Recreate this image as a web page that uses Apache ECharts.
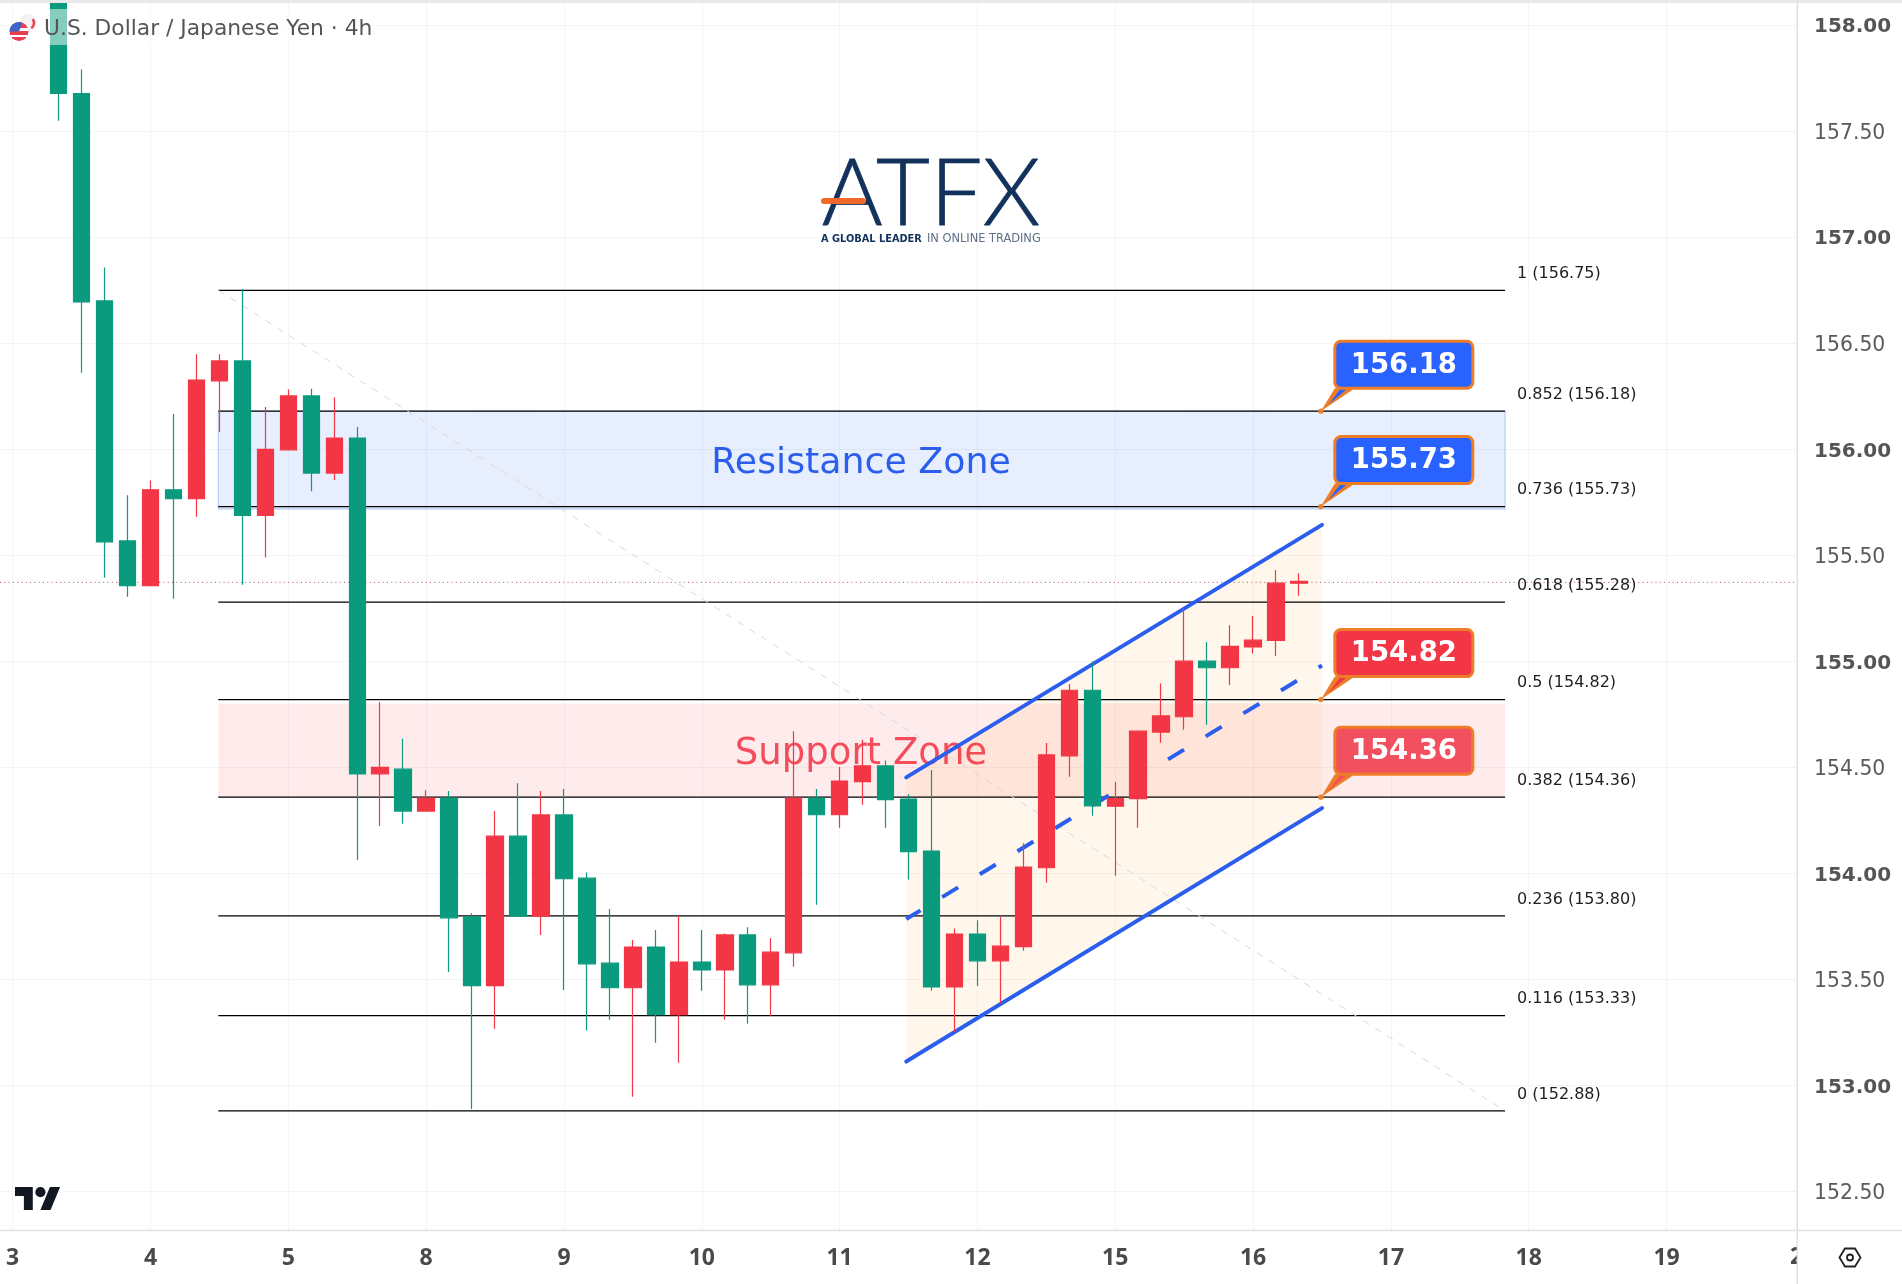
<!DOCTYPE html>
<html>
<head>
<meta charset="utf-8">
<title>USD/JPY 4h</title>
<script src="https://cdn.jsdelivr.net/npm/echarts@6/dist/echarts.min.js"></script>
<style>
html,body{margin:0;padding:0;background:#fff;}
#chart{width:1902px;height:1284px;}
</style>
</head>
<body>
<div id="chart"></div>
<script>
// bars start at index 2, six 4h bars per day
var firstBar = 2;
var opens  = [158.35,157.678,156.70,155.568,155.357,155.809,155.767,156.323,156.417,155.688,155.998,156.252,155.888,156.053,154.47,154.492,154.294,154.356,153.796,153.471,154.176,153.799,154.276,153.978,153.577,153.461,153.653,153.334,153.582,153.545,153.71,153.475,153.626,154.356,154.277,154.433,154.507,154.351,154.106,153.465,153.714,153.588,153.655,154.027,154.555,154.864,154.317,154.353,154.667,154.739,155.001,154.970,155.068,155.099,155.369];
var closes = [157.678,156.695,155.563,155.357,155.809,155.767,156.327,156.417,155.688,156.0,156.252,155.888,156.053,154.469,154.50,154.294,154.356,153.791,153.471,154.176,153.799,154.276,153.975,153.574,153.461,153.653,153.334,153.582,153.545,153.71,153.475,153.629,154.356,154.277,154.436,154.507,154.348,154.103,153.465,153.714,153.588,153.657,154.03,154.559,154.864,154.319,154.353,154.671,154.743,155.001,154.970,155.071,155.1,155.369,155.377];
var lows   = [157.549,156.361,155.395,155.305,155.357,155.295,155.682,156.082,155.362,155.49,155.998,155.803,155.855,154.063,154.224,154.235,154.294,153.535,152.889,153.268,153.799,153.71,153.45,153.259,153.31,152.947,153.202,153.108,153.447,153.31,153.291,153.329,153.56,153.853,154.216,154.324,154.216,153.972,153.447,153.252,153.469,153.388,153.635,153.956,154.456,154.272,153.989,154.216,154.617,154.678,154.701,154.889,155.037,155.025,155.31];
var highs  = [158.45,157.791,156.858,155.784,155.853,156.167,156.448,156.448,156.756,156.2,156.282,156.286,156.245,156.105,154.808,154.635,154.393,154.389,153.812,154.294,154.425,154.389,154.398,154.005,153.832,153.686,153.733,153.802,153.733,153.717,153.746,153.694,154.671,154.398,154.502,154.63,154.533,154.373,154.488,153.74,153.779,153.797,154.142,154.615,154.893,155.0,154.431,154.671,154.896,155.247,155.091,155.171,155.214,155.431,155.416];

var dayLabels = ['3','4','5','8','9','10','11','12','15','16','17','18','19'];
var dayTicks = [0,6,12,18,24,30,36,42,48,54,60,66,72];
var priceTicks = [152.5,153,153.5,154,154.5,155,155.5,156,156.5,157,157.5,158];
var lastPrice = 155.373;

var fibRatios = ['1','0.852','0.736','0.618','0.5','0.382','0.236','0.116','0'];
var fibPrices = [156.75,156.18,155.73,155.28,154.82,154.36,153.80,153.33,152.88];
var fibFrom = 8.95, fibTo = 64.97;

var resistanceZone = [155.719,156.18];
var supportZone = [154.36,154.802];
var channelX = [38.9,57.0];
var channelTop = [154.453,155.644];
var channelMid = [153.785,154.981];
var channelBottom = [153.113,154.308];

var calloutPrices = [156.18,155.73,154.82,154.36];
var calloutColors = ['#2962ff','#2962ff','#f23645','#f2505f'];
var calloutX = 56.95;

var xMin = -0.553, xMax = 77.68;
var yMin = 152.314, yMax = 158.119;
var FONT = '"DejaVu Sans"';

var candles = [];
for (var i = 0; i < opens.length; i++) {
    candles.push([i + firstBar, opens[i], closes[i], lows[i], highs[i]]);
}

function lineSeries(points, color, width, type, z, cap, dashOffset) {
    return {
        type: 'line', data: points, symbol: 'none', silent: true, z: z, animation: false,
        lineStyle: {color: color, width: width, type: type, cap: cap || 'round', dashOffset: dashOffset || 0}
    };
}

function polySeries(points, fill, stroke, z) {
    return {
        type: 'custom', silent: true, z: z, data: [points[0]],
        encode: {x: 0, y: 1},
        renderItem: function (params, api) {
            var pts = [];
            for (var k = 0; k < points.length; k++) pts.push(api.coord(points[k]));
            return {type: 'polygon', shape: {points: pts}, style: {fill: fill, stroke: stroke || 'none', lineWidth: 1}};
        }
    };
}

function textSeries(x, y, text, color, size) {
    return {
        type: 'custom', silent: true, z: 3, data: [[x, y]],
        encode: {x: 0, y: 1},
        renderItem: function (params, api) {
            var p = api.coord([api.value(0), api.value(1)]);
            return {type: 'text', x: p[0], y: p[1], style: {text: text, fill: color, font: size + 'px ' + FONT, align: 'center', verticalAlign: 'middle'}};
        }
    };
}

var series = [];

// zones and channel fill
series.push(polySeries([[fibFrom,resistanceZone[0]],[fibTo,resistanceZone[0]],[fibTo,resistanceZone[1]],[fibFrom,resistanceZone[1]]], 'rgba(66,133,244,0.13)', '#a9c4f2', 1));
series.push(polySeries([[fibFrom,supportZone[0]],[fibTo,supportZone[0]],[fibTo,supportZone[1]],[fibFrom,supportZone[1]]], 'rgba(242,54,69,0.10)', null, 1));
series.push(polySeries([[channelX[0],channelBottom[0]],[channelX[1],channelBottom[1]],[channelX[1],channelTop[1]],[channelX[0],channelTop[0]]], 'rgba(255,152,0,0.08)', null, 1));

// fib levels
for (var f = 0; f < fibPrices.length; f++) {
    series.push(lineSeries([[fibFrom,fibPrices[f]],[fibTo,fibPrices[f]]], '#000', 1.3, 'solid', 2, 'butt'));
}
series.push(lineSeries([[fibFrom,fibPrices[0]],[fibTo,fibPrices[8]]], '#d9d9d9', 1, [7,7], 2, 'butt'));
series.push({
    type: 'custom', silent: true, z: 3,
    data: fibPrices.map(function (p) { return [fibTo, p]; }),
    encode: {x: 0, y: 1},
    renderItem: function (params, api) {
        var p = api.coord([api.value(0), api.value(1)]);
        return {
            type: 'text', x: p[0] + 12, y: p[1] - 16.5,
            style: {text: fibRatios[params.dataIndex] + ' (' + fibPrices[params.dataIndex].toFixed(2) + ')', fill: '#1f1f1f', font: '16px ' + FONT, verticalAlign: 'middle'}
        };
    }
});

// last price line
series.push(lineSeries([[xMin,lastPrice],[xMax,lastPrice]], '#a8505e', 1, [1,3.3], 2, 'butt'));

// channel lines
series.push(lineSeries([[channelX[0],channelTop[0]],[channelX[1],channelTop[1]]], '#2c5eee', 4, 'solid', 3));
series.push(lineSeries([[channelX[0],channelBottom[0]],[channelX[1],channelBottom[1]]], '#2c5eee', 4, 'solid', 3));
series.push(lineSeries([[channelX[0],channelMid[0]],[channelX[1],channelMid[1]]], '#2c5eee', 4, [18.7,25.4], 3, 'butt', 2));

series.push(textSeries(36.93, 155.935, 'Resistance Zone', '#2c5eee', 36.3));
series.push(textSeries(36.93, 154.561, 'Support Zone', 'rgba(242,54,69,0.88)', 37));

series.push({
    type: 'candlestick', z: 5, data: candles, barWidth: 17, silent: true,
    encode: {x: 0, y: [1,2,3,4]},
    itemStyle: {color: '#f23645', color0: '#0a9a7e', borderColor: '#f23645', borderColor0: '#0a9a7e', borderWidth: 1.2}
});

// price callouts
series.push({
    type: 'custom', silent: true, z: 6,
    data: calloutPrices.map(function (p) { return [calloutX, p]; }),
    encode: {x: 0, y: 1},
    renderItem: function (params, api) {
        var p = api.coord([api.value(0), api.value(1)]);
        var c = calloutColors[params.dataIndex];
        var x = p[0], y = p[1];
        return {
            type: 'group',
            children: [
                {type: 'polygon', shape: {points: [[x,y],[x+14,y-23],[x+34,y-23]]}, style: {fill: '#ee7d27'}},
                {type: 'polygon', shape: {points: [[x+8,y-7],[x+20,y-23],[x+27,y-23]]}, style: {fill: c}},
                {type: 'rect', shape: {x: x+14, y: y-70, width: 138, height: 47, r: 6}, style: {fill: c, stroke: '#ee7d27', lineWidth: 3}},
                {type: 'circle', shape: {cx: x, cy: y, r: 2.6}, style: {fill: '#e8822c'}},
                {type: 'text', x: x+83, y: y-45.5, style: {text: api.value(1).toFixed(2), fill: '#fff', font: 'bold 27.5px ' + FONT, align: 'center', verticalAlign: 'middle'}}
            ]
        };
    }
});

var chart = echarts.init(document.getElementById('chart'));
chart.setOption({
    animation: false,
    backgroundColor: '#fff',
    grid: {left: 0, top: 0, width: 1797, height: 1231},
    xAxis: {
        type: 'value', min: xMin, max: xMax,
        axisLine: {show: false},
        axisTick: {show: false, customValues: dayTicks},
        axisLabel: {
            customValues: dayTicks, margin: 16, color: '#4a4a4a', fontFamily: '"Noto Sans"', fontWeight: 'bold', fontSize: 23,
            formatter: function (v) { return dayLabels[Math.round(v / 6)]; }
        },
        splitLine: {show: true, lineStyle: {color: '#f3f4f5', width: 1}}
    },
    yAxis: {
        type: 'value', position: 'right', min: yMin, max: yMax, scale: true,
        axisLine: {show: false},
        axisTick: {show: false, customValues: priceTicks},
        axisLabel: {
            customValues: priceTicks, margin: 17, color: '#5a5a5a', fontFamily: FONT, fontSize: 20.4, padding: [4,0,0,0],
            formatter: function (v) {
                return v % 1 === 0 ? '{b|' + v.toFixed(2) + '}' : v.toFixed(2);
            },
            rich: {b: {fontFamily: FONT, fontSize: 20, fontWeight: 'bold', color: '#555'}}
        },
        splitLine: {show: true, lineStyle: {color: '#f3f4f5', width: 1}}
    },
    series: series,
    graphic: [
        // panes
        {type: 'rect', z: 50, shape: {x: 0, y: 0, width: 1902, height: 3}, style: {fill: '#e9e9ea'}},
        {type: 'text', z: 49, x: 1790, y: 1246, style: {text: '2', fill: '#4a4a4a', font: 'bold 23px "Noto Sans"'}},
        {type: 'rect', z: 49, shape: {x: 1797, y: 1232, width: 30, height: 50}, style: {fill: '#fff'}},
        {type: 'line', z: 50, shape: {x1: 0, y1: 1230.5, x2: 1902, y2: 1230.5}, style: {stroke: '#dfe1e4', lineWidth: 1.5}},
        {type: 'line', z: 50, shape: {x1: 1797.3, y1: 0, x2: 1797.3, y2: 1284}, style: {stroke: '#dfe1e4', lineWidth: 1.5}},
        // legend
        {type: 'rect', z: 50, shape: {x: 40, y: 9, width: 338, height: 36}, style: {fill: 'rgba(255,255,255,0.5)'}},
        {type: 'circle', z: 51, shape: {cx: 28, cy: 23, r: 9}, style: {fill: '#f2f2f3'}},
        {type: 'arc', z: 51, shape: {cx: 28, cy: 23, r: 6, startAngle: -0.7, endAngle: 1.0}, style: {stroke: '#e8404f', fill: 'none', lineWidth: 2.5}},
        {type: 'circle', z: 52, shape: {cx: 19, cy: 31.5, r: 9.5}, style: {fill: {type: 'linear', x: 0, y: 0, x2: 0, y2: 1, colorStops: [
            {offset: 0, color: '#e8404f'}, {offset: 0.3, color: '#e8404f'}, {offset: 0.3, color: '#fff'},
            {offset: 0.5, color: '#fff'}, {offset: 0.5, color: '#e8404f'}, {offset: 0.7, color: '#e8404f'},
            {offset: 0.7, color: '#fff'}, {offset: 0.8, color: '#fff'}, {offset: 0.8, color: '#e8404f'}, {offset: 1, color: '#e8404f'}]}}},
        {type: 'sector', z: 53, shape: {cx: 19, cy: 31.5, r: 9.5, r0: 0, startAngle: Math.PI, endAngle: Math.PI * 1.62}, style: {fill: '#3f63c8'}},
        {type: 'text', z: 54, x: 44, y: 29, style: {text: 'U.S. Dollar / Japanese Yen \u00b7 4h', fill: '#555', font: '21.8px ' + FONT, verticalAlign: 'middle'}},
        // broker mark
        {type: 'text', z: 50, x: 931, y: 195, style: {text: 'ATFX', fill: '#12325b', stroke: '#12325b', lineWidth: 0.8, font: '300 93px Lato', align: 'center', verticalAlign: 'middle'}},
        {type: 'rect', z: 51, shape: {x: 821, y: 198, width: 45, height: 6, r: 3}, style: {fill: '#f0692b'}},
        {type: 'text', z: 50, x: 821, y: 239, style: {text: 'A GLOBAL LEADER', fill: '#12325b', font: 'bold 9.8px "DejaVu Sans"', verticalAlign: 'middle'}},
        {type: 'text', z: 50, x: 927, y: 239, style: {text: 'IN ONLINE TRADING', fill: '#5f6f85', font: '11.4px "DejaVu Sans"', verticalAlign: 'middle'}},
        // TradingView mark
        {type: 'group', z: 50, x: 15, y: 1182, scaleX: 1.27, scaleY: 1.27, children: [
            {type: 'polygon', z: 50, shape: {points: [[0,4],[14,4],[14,22],[7,22],[7,11],[0,11]]}, style: {fill: '#131722'}},
            {type: 'polygon', z: 50, shape: {points: [[20,22],[27.5,4],[35.5,4],[28,22]]}, style: {fill: '#131722'}},
            {type: 'circle', z: 50, shape: {cx: 20, cy: 8, r: 4}, style: {fill: '#131722'}}
        ]},
        // settings icon
        {type: 'polygon', z: 50, shape: {points: [[1839.5,1257.5],[1845,1248.5],[1855,1248.5],[1860.5,1257.5],[1855,1266.5],[1845,1266.5]]}, style: {fill: 'none', stroke: '#222', lineWidth: 1.8}},
        {type: 'circle', z: 50, shape: {cx: 1850, cy: 1257.5, r: 3}, style: {fill: 'none', stroke: '#222', lineWidth: 1.8}}
    ]
});
</script>
</body>
</html>
